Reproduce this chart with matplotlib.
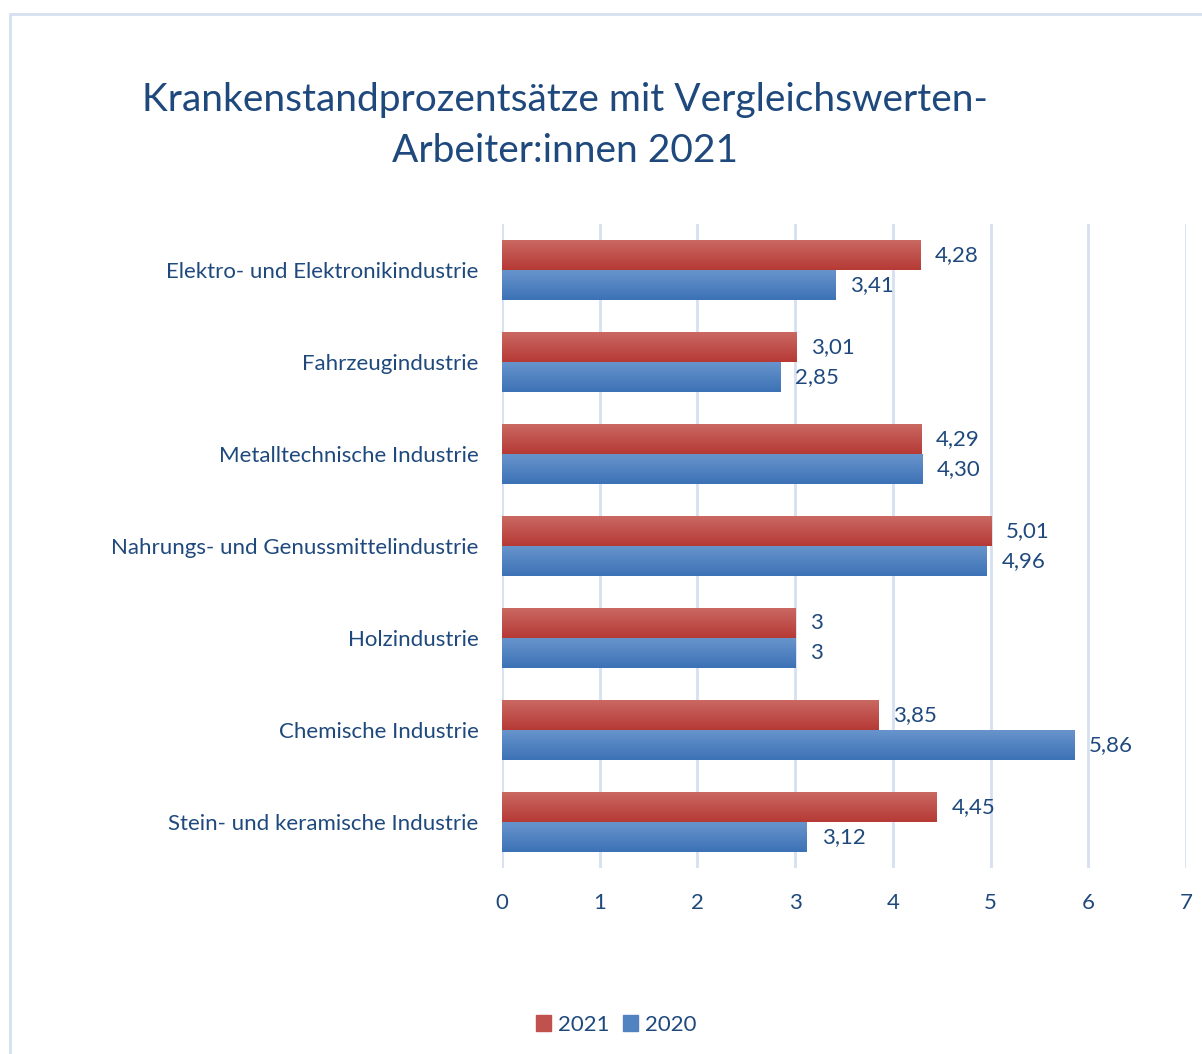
import matplotlib.pyplot as plt
import matplotlib.patches as mpatches
import numpy as np

categories = [
    "Elektro- und Elektronikindustrie",
    "Fahrzeugindustrie",
    "Metalltechnische Industrie",
    "Nahrungs- und Genussmittelindustrie",
    "Holzindustrie",
    "Chemische Industrie",
    "Stein- und keramische Industrie",
]
values_2021 = [4.28, 3.01, 4.29, 5.01, 3.00, 3.85, 4.45]
values_2020 = [3.41, 2.85, 4.30, 4.96, 3.00, 5.86, 3.12]
labels_2021 = ["4,28", "3,01", "4,29", "5,01", "3", "3,85", "4,45"]
labels_2020 = ["3,41", "2,85", "4,30", "4,96", "3", "5,86", "3,12"]

plt.rcParams['font.family'] = ['Lato', 'DejaVu Sans']
txt = '#1F497D'
grid_c = '#D6E0F0'

red_top, red_bot = np.array([202, 104, 98]) / 255, np.array([182, 58, 54]) / 255
blue_top, blue_bot = np.array([104, 148, 204]) / 255, np.array([60, 114, 182]) / 255


def grad(c_top, c_bot):
    t = np.linspace(0, 1, 64)[:, None]
    return (c_top * (1 - t) + c_bot * t).reshape(64, 1, 3)


fig = plt.figure(figsize=(12.02, 10.54), dpi=100)
ax = fig.add_axes([502 / 1202, 1 - 868 / 1054, 684 / 1202, 644 / 1054])

h = 0.326
n = len(categories)

for i in range(n):
    # 2021 bar (upper), 2020 bar (lower)
    for val, y0, y1, ct, cb, lab in [
        (values_2021[i], i - h, i, red_top, red_bot, labels_2021[i]),
        (values_2020[i], i, i + h, blue_top, blue_bot, labels_2020[i]),
    ]:
        ax.imshow(grad(ct, cb), extent=[0, val, y1, y0], aspect='auto',
                  interpolation='bilinear', zorder=3)
        ax.text(val + 0.15, (y0 + y1) / 2, lab, va='center', ha='left',
                fontsize=16, color=txt, zorder=4)

ax.set_xlim(0, 7)
ax.set_ylim(n - 0.5, -0.5)
ax.set_xticks(range(8))
ax.set_yticks(range(n))
ax.set_yticklabels(categories)
ax.tick_params(axis='both', length=0, labelsize=16, labelcolor=txt)
ax.tick_params(axis='y', pad=17)
ax.tick_params(axis='x', pad=18)
ax.grid(axis='x', color=grid_c, linewidth=2, zorder=0)
ax.set_axisbelow(True)
for s in ax.spines.values():
    s.set_visible(False)

fig.text(565 / 1202, 1 - 100 / 1054, "Krankenstandprozentsätze mit Vergleichswerten-",
         ha='center', va='center', fontsize=28, color=txt)
fig.text(565 / 1202, 1 - 151 / 1054, "Arbeiter:innen 2021",
         ha='center', va='center', fontsize=28, color=txt)

handles = [mpatches.Patch(color=tuple((red_top + red_bot) / 2), label='2021'),
           mpatches.Patch(color=tuple((blue_top + blue_bot) / 2), label='2020')]
fig.legend(handles=handles, loc='center', bbox_to_anchor=(616 / 1202, 1 - 1025 / 1054),
           ncol=2, frameon=False, fontsize=16, labelcolor=txt, handlelength=0.7,
           handleheight=0.7, handletextpad=0.3, columnspacing=0.6)

# chart frame
fig.patches.append(mpatches.Rectangle((10 / 1202, -0.1), 1.2, 1 - 14 / 1054 + 0.1,
                                      transform=fig.transFigure, fill=False,
                                      edgecolor='#D6E0F0', linewidth=2))

fig.savefig('out.png', dpi=100)
